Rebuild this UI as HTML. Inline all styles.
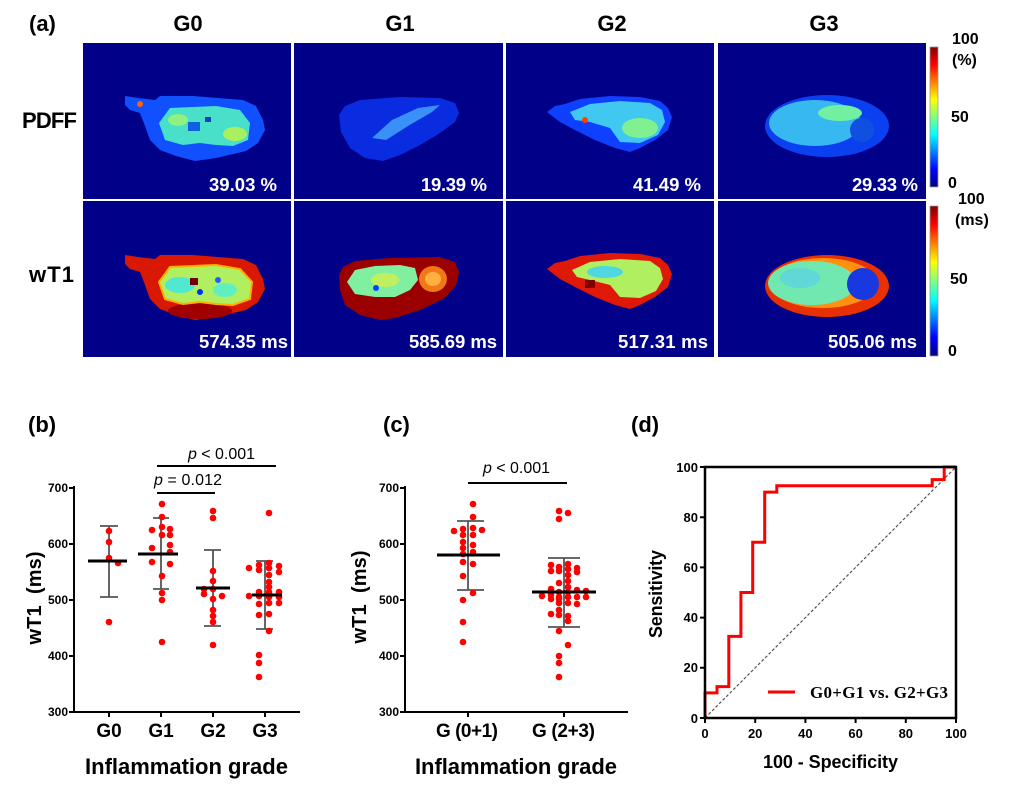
<!DOCTYPE html>
<html><head><meta charset="utf-8"><style>
html,body{margin:0;padding:0;background:#fff;}
svg{display:block;}
text{font-family:"Liberation Sans",Arial,sans-serif;}
</style></head><body>
<svg width="1014" height="795" viewBox="0 0 1014 795" xmlns="http://www.w3.org/2000/svg">
<defs>
<linearGradient id="jet" x1="0" y1="0" x2="0" y2="1">
<stop offset="0" stop-color="#800000"/><stop offset="0.125" stop-color="#ff0000"/><stop offset="0.375" stop-color="#ffff00"/><stop offset="0.625" stop-color="#00ffff"/><stop offset="0.875" stop-color="#0000ff"/><stop offset="1" stop-color="#000080"/>
</linearGradient>
</defs>
<rect width="1014" height="795" fill="#fff"/>

<!-- (a) header -->
<g font-weight="bold" font-size="22" fill="#000">
<text x="29" y="31">(a)</text>
<text x="188" y="31" text-anchor="middle">G0</text>
<text x="400" y="31" text-anchor="middle">G1</text>
<text x="612" y="31" text-anchor="middle">G2</text>
<text x="824" y="31" text-anchor="middle">G3</text>
<text x="22" y="128" textLength="55">PDFF</text>
<text x="29" y="282" textLength="45">wT1</text>
</g>

<!-- tiles -->
<g fill="#000088">
<rect x="83" y="43" width="208" height="156"/>
<rect x="294" y="43" width="209" height="156"/>
<rect x="506" y="43" width="208" height="156"/>
<rect x="718" y="43" width="208" height="156"/>
<rect x="83" y="201" width="208" height="156"/>
<rect x="294" y="201" width="209" height="156"/>
<rect x="506" y="201" width="208" height="156"/>
<rect x="718" y="201" width="208" height="156"/>
</g>

<!-- G0 PDFF -->
<path d="M125,96 L138,98 L155,100 L160,96 L193,96 L243,100 L256,106 L263,120 L265,130 L258,143 L246,151 L216,158 L195,161 L176,156 L160,150 L150,140 L145,126 L140,113 L130,110 L125,105 Z" fill="#1050ff"/>
<path d="M159,123 L170,108 L216,106 L240,110 L250,123 L248,140 L233,146 L216,145 L200,143 L183,145 L165,140 Z" fill="#48e0c8"/>
<ellipse cx="235" cy="134" rx="12" ry="7" fill="#a8f060"/>
<ellipse cx="178" cy="120" rx="10" ry="6" fill="#90f080"/>
<rect x="188" y="122" width="12" height="9" fill="#1060e0"/>
<rect x="205" y="117" width="6" height="5" fill="#0040c0"/>
<circle cx="140" cy="104" r="3" fill="#ff6000"/>

<!-- G1 PDFF -->
<path d="M339,115 L345,106 L360,100 L400,97 L440,98 L455,103 L459,113 L455,122 L440,133 L420,145 L400,155 L383,161 L365,158 L350,148 L341,132 Z" fill="#0a2ce0"/>
<path d="M372,138 L392,120 L418,108 L440,105 L432,112 L408,126 L386,140 Z" fill="#3a90f8"/>

<!-- G2 PDFF -->
<path d="M547,112 L555,106 L565,104 L580,99 L610,96 L640,97 L660,101 L668,108 L672,117 L668,130 L655,140 L640,148 L630,152 L615,148 L595,140 L575,130 L560,122 Z" fill="#1040ff"/>
<path d="M570,112 L590,104 L620,101 L650,103 L662,110 L665,122 L658,135 L640,143 L620,142 L610,128 L590,122 L575,120 Z" fill="#40c8f0"/>
<ellipse cx="640" cy="128" rx="18" ry="10" fill="#80f090"/>
<circle cx="585" cy="120" r="3" fill="#ff4000"/>

<!-- G3 PDFF -->
<ellipse cx="827" cy="126" rx="62" ry="31" fill="#0a40f0"/>
<ellipse cx="815" cy="123" rx="46" ry="23" fill="#38b8f0"/>
<ellipse cx="840" cy="113" rx="22" ry="8" fill="#70f0a0"/>
<circle cx="862" cy="130" r="12" fill="#1050e0"/>

<!-- G0 wT1 -->
<path d="M125,255 L138,257 L155,259 L160,255 L193,255 L243,259 L256,265 L263,279 L265,289 L258,302 L246,310 L216,317 L195,320 L176,315 L160,309 L150,299 L145,285 L140,272 L130,269 L125,264 Z" fill="#d81800"/>
<ellipse cx="200" cy="311" rx="32" ry="8" fill="#a00000"/>
<path d="M159,282 L170,267 L216,265 L240,269 L252,282 L250,299 L233,305 L216,304 L200,302 L183,304 L165,299 Z" fill="#b0f060" stroke="#ffb000" stroke-width="2"/>
<ellipse cx="180" cy="285" rx="15" ry="8" fill="#50e8d0"/>
<ellipse cx="225" cy="290" rx="12" ry="7" fill="#60f0c0"/>
<rect x="190" y="278" width="8" height="7" fill="#700000"/>
<circle cx="200" cy="292" r="3" fill="#0030ff"/>
<circle cx="218" cy="280" r="3" fill="#2060ff"/>

<!-- G1 wT1 -->
<path d="M339,275 L343,267 L355,261 L390,258 L440,257 L455,262 L459,272 L456,285 L445,298 L420,310 L395,318 L380,320 L360,315 L345,305 L340,290 Z" fill="#9a0000"/>
<path d="M347,282 L355,270 L375,266 L400,265 L415,268 L418,280 L410,290 L395,297 L375,297 L355,294 Z" fill="#80f0a0"/>
<ellipse cx="385" cy="280" rx="14" ry="7" fill="#c0f060"/>
<ellipse cx="433" cy="279" rx="14" ry="13" fill="#f07818"/>
<ellipse cx="433" cy="279" rx="8" ry="7" fill="#ffb040"/>
<circle cx="376" cy="288" r="3" fill="#0040ff"/>

<!-- G2 wT1 -->
<path d="M547,269 L555,263 L565,261 L580,256 L610,253 L640,254 L660,258 L668,265 L672,274 L668,287 L655,297 L640,305 L630,309 L615,305 L595,297 L575,287 L560,279 Z" fill="#e01808"/>
<path d="M572,270 L590,262 L620,259 L650,261 L660,268 L663,279 L656,291 L640,298 L620,297 L610,285 L590,280 L577,277 Z" fill="#b0f060"/>
<ellipse cx="605" cy="272" rx="18" ry="6" fill="#50d8e0"/>
<rect x="585" y="280" width="10" height="8" fill="#800000"/>

<!-- G3 wT1 -->
<ellipse cx="827" cy="286" rx="62" ry="31" fill="#e83000"/>
<ellipse cx="823" cy="283" rx="54" ry="25" fill="#ff9010"/>
<ellipse cx="812" cy="283" rx="44" ry="22" fill="#70e8b0"/>
<ellipse cx="800" cy="278" rx="20" ry="10" fill="#60d8d8"/>
<circle cx="863" cy="284" r="16" fill="#1838e0"/>

<!-- tile values -->
<g font-weight="bold" font-size="18.5" fill="#fff">
<text x="209" y="191" textLength="68">39.03 %</text>
<text x="421" y="191" textLength="66">19.39 %</text>
<text x="633" y="191" textLength="68">41.49 %</text>
<text x="852" y="191" textLength="66">29.33 %</text>
<text x="199" y="348" textLength="89">574.35 ms</text>
<text x="409" y="348" textLength="88">585.69 ms</text>
<text x="618" y="348" textLength="90">517.31 ms</text>
<text x="828" y="348" textLength="89">505.06 ms</text>
</g>

<!-- colorbars -->
<rect x="930" y="47" width="8" height="140" fill="url(#jet)" stroke="#999" stroke-width="0.8"/>
<rect x="930" y="206" width="8" height="150" fill="url(#jet)" stroke="#999" stroke-width="0.8"/>
<g font-weight="bold" font-size="16" fill="#000">
<text x="952" y="44">100</text>
<text x="952" y="65">(%)</text>
<text x="951" y="122">50</text>
<text x="948" y="188">0</text>
<text x="958" y="204">100</text>
<text x="955" y="225">(ms)</text>
<text x="950" y="284">50</text>
<text x="948" y="356">0</text>
</g>

<!-- panel labels -->
<g font-weight="bold" font-size="22" fill="#000">
<text x="28" y="432">(b)</text>
<text x="383" y="432">(c)</text>
<text x="631" y="432">(d)</text>
</g>

<!-- Panel b -->
<g stroke="#000" stroke-width="2" fill="none">
<path d="M74,486 L74,713 M73,712 L300,712"/>
<path d="M69,488 H74 M69,544 H74 M69,600 H74 M69,656 H74 M69,712 H74"/>
<path d="M109,712 V717 M161,712 V717 M213,712 V717 M265,712 V717"/>
</g>
<g font-weight="bold" font-size="12" fill="#000" text-anchor="end">
<text x="68" y="492">700</text>
<text x="68" y="548">600</text>
<text x="68" y="604">500</text>
<text x="68" y="660">400</text>
<text x="68" y="716">300</text>
</g>
<text x="41" y="598" transform="rotate(-90 41 598)" text-anchor="middle" font-weight="bold" font-size="20" textLength="93">wT1&#160; (ms)</text>
<g font-weight="bold" font-size="19" text-anchor="middle">
<text x="109" y="737">G0</text>
<text x="161" y="737">G1</text>
<text x="213" y="737">G2</text>
<text x="265" y="737">G3</text>
</g>
<text x="85" y="774" font-weight="bold" font-size="22" textLength="203">Inflammation grade</text>
<!-- significance b -->
<g stroke="#000" stroke-width="2">
<line x1="157" y1="466" x2="276" y2="466"/>
<line x1="157" y1="493" x2="215" y2="493"/>
</g>
<text x="188" y="459" font-size="16" textLength="67"><tspan font-style="italic">p</tspan> &lt; 0.001</text>
<text x="154" y="485" font-size="16" textLength="68"><tspan font-style="italic">p</tspan> = 0.012</text>
<!-- error bars b -->
<g stroke="#555" stroke-width="1.8">
<path d="M109,526 V597 M100,526 H118 M100,597 H118"/>
<path d="M161,518 V589 M153,518 H169 M153,589 H169"/>
<path d="M213,550 V626 M204,550 H221 M204,626 H221"/>
<path d="M265,561 V629 M256,561 H273 M256,629 H273"/>
</g>
<g fill="#ff0000">
<circle cx="109" cy="531" r="3.3"/><circle cx="109" cy="542" r="3.3"/><circle cx="109" cy="558" r="3.3"/><circle cx="118" cy="563" r="3.3"/><circle cx="109" cy="622" r="3.3"/>
<circle cx="162" cy="504" r="3.3"/><circle cx="162" cy="517" r="3.3"/><circle cx="152" cy="530" r="3.3"/><circle cx="162" cy="527" r="3.3"/><circle cx="170" cy="529" r="3.3"/><circle cx="162" cy="535" r="3.3"/><circle cx="170" cy="535" r="3.3"/><circle cx="170" cy="545" r="3.3"/><circle cx="152" cy="548" r="3.3"/><circle cx="170" cy="552" r="3.3"/><circle cx="152" cy="562" r="3.3"/><circle cx="170" cy="564" r="3.3"/><circle cx="162" cy="576" r="3.3"/><circle cx="162" cy="593" r="3.3"/><circle cx="162" cy="600" r="3.3"/><circle cx="162" cy="642" r="3.3"/>
<circle cx="213" cy="511" r="3.3"/><circle cx="213" cy="518" r="3.3"/><circle cx="213" cy="571" r="3.3"/><circle cx="213" cy="581" r="3.3"/><circle cx="204" cy="589" r="3.3"/><circle cx="213" cy="589" r="3.3"/><circle cx="204" cy="594" r="3.3"/><circle cx="222" cy="596" r="3.3"/><circle cx="213" cy="599" r="3.3"/><circle cx="213" cy="610" r="3.3"/><circle cx="213" cy="616" r="3.3"/><circle cx="213" cy="622" r="3.3"/><circle cx="213" cy="645" r="3.3"/>
<circle cx="269" cy="513" r="3.3"/><circle cx="249" cy="568" r="3.3"/><circle cx="259" cy="565" r="3.3"/><circle cx="259" cy="570" r="3.3"/><circle cx="269" cy="563" r="3.3"/><circle cx="269" cy="568" r="3.3"/><circle cx="279" cy="566" r="3.3"/><circle cx="279" cy="572" r="3.3"/><circle cx="269" cy="575" r="3.3"/><circle cx="269" cy="582" r="3.3"/><circle cx="269" cy="587" r="3.3"/><circle cx="259" cy="592" r="3.3"/><circle cx="269" cy="592" r="3.3"/><circle cx="279" cy="592" r="3.3"/><circle cx="249" cy="596" r="3.3"/><circle cx="259" cy="596" r="3.3"/><circle cx="269" cy="597" r="3.3"/><circle cx="279" cy="597" r="3.3"/><circle cx="259" cy="604" r="3.3"/><circle cx="269" cy="603" r="3.3"/><circle cx="279" cy="603" r="3.3"/><circle cx="259" cy="615" r="3.3"/><circle cx="269" cy="614" r="3.3"/><circle cx="269" cy="631" r="3.3"/><circle cx="259" cy="655" r="3.3"/><circle cx="259" cy="663" r="3.3"/><circle cx="259" cy="677" r="3.3"/>
</g>
<g stroke="#000" stroke-width="3">
<line x1="88" y1="561" x2="127" y2="561"/>
<line x1="138" y1="554" x2="178" y2="554"/>
<line x1="196" y1="588" x2="230" y2="588"/>
<line x1="252" y1="595" x2="282" y2="595"/>
</g>

<!-- Panel c -->
<g stroke="#000" stroke-width="2" fill="none">
<path d="M405,486 L405,713 M404,712 L628,712"/>
<path d="M400,488 H405 M400,544 H405 M400,600 H405 M400,656 H405 M400,712 H405"/>
<path d="M468,712 V717 M564,712 V717"/>
</g>
<g font-weight="bold" font-size="12" fill="#000" text-anchor="end">
<text x="399" y="492">700</text>
<text x="399" y="548">600</text>
<text x="399" y="604">500</text>
<text x="399" y="660">400</text>
<text x="399" y="716">300</text>
</g>
<text x="366" y="597" transform="rotate(-90 366 597)" text-anchor="middle" font-weight="bold" font-size="20" textLength="93">wT1&#160; (ms)</text>
<g font-weight="bold" font-size="19">
<text x="436" y="737" textLength="62">G (0+1)</text>
<text x="532" y="737" textLength="63">G (2+3)</text>
</g>
<text x="415" y="774" font-weight="bold" font-size="22" textLength="202">Inflammation grade</text>
<line x1="468" y1="483" x2="567" y2="483" stroke="#000" stroke-width="2"/>
<text x="483" y="473" font-size="16" textLength="67"><tspan font-style="italic">p</tspan> &lt; 0.001</text>
<g stroke="#555" stroke-width="1.8">
<path d="M468,521 V590 M457,521 H484 M457,590 H484"/>
<path d="M564,558 V627 M548,558 H580 M548,627 H580"/>
</g>
<g fill="#ff0000">
<circle cx="473" cy="504" r="3.3"/><circle cx="473" cy="517" r="3.3"/><circle cx="454" cy="531" r="3.3"/><circle cx="463" cy="529" r="3.3"/><circle cx="473" cy="528" r="3.3"/><circle cx="482" cy="530" r="3.3"/><circle cx="463" cy="535" r="3.3"/><circle cx="473" cy="535" r="3.3"/><circle cx="463" cy="542" r="3.3"/><circle cx="473" cy="545" r="3.3"/><circle cx="463" cy="548" r="3.3"/><circle cx="473" cy="552" r="3.3"/><circle cx="463" cy="554" r="3.3"/><circle cx="463" cy="562" r="3.3"/><circle cx="473" cy="564" r="3.3"/><circle cx="463" cy="576" r="3.3"/><circle cx="473" cy="593" r="3.3"/><circle cx="463" cy="600" r="3.3"/><circle cx="463" cy="622" r="3.3"/><circle cx="463" cy="642" r="3.3"/>
<circle cx="559" cy="511" r="3.3"/><circle cx="568" cy="513" r="3.3"/><circle cx="559" cy="519" r="3.3"/>
<circle cx="551" cy="565" r="3.3"/><circle cx="559" cy="567" r="3.3"/><circle cx="568" cy="564" r="3.3"/><circle cx="577" cy="568" r="3.3"/>
<circle cx="551" cy="571" r="3.3"/><circle cx="559" cy="571" r="3.3"/><circle cx="568" cy="569" r="3.3"/><circle cx="577" cy="572" r="3.3"/>
<circle cx="568" cy="575" r="3.3"/><circle cx="559" cy="583" r="3.3"/><circle cx="568" cy="581" r="3.3"/><circle cx="568" cy="587" r="3.3"/>
<circle cx="551" cy="589" r="3.3"/><circle cx="577" cy="590" r="3.3"/><circle cx="586" cy="591" r="3.3"/><circle cx="559" cy="592" r="3.3"/><circle cx="568" cy="592" r="3.3"/>
<circle cx="542" cy="596" r="3.3"/><circle cx="551" cy="595" r="3.3"/><circle cx="559" cy="597" r="3.3"/><circle cx="568" cy="597" r="3.3"/><circle cx="577" cy="597" r="3.3"/><circle cx="586" cy="597" r="3.3"/>
<circle cx="551" cy="599" r="3.3"/><circle cx="559" cy="599" r="3.3"/><circle cx="559" cy="603" r="3.3"/><circle cx="568" cy="603" r="3.3"/><circle cx="577" cy="604" r="3.3"/>
<circle cx="559" cy="610" r="3.3"/><circle cx="551" cy="614" r="3.3"/><circle cx="559" cy="615" r="3.3"/><circle cx="568" cy="616" r="3.3"/><circle cx="568" cy="621" r="3.3"/>
<circle cx="559" cy="631" r="3.3"/><circle cx="568" cy="645" r="3.3"/><circle cx="559" cy="656" r="3.3"/><circle cx="559" cy="663" r="3.3"/><circle cx="559" cy="677" r="3.3"/>
</g>
<g stroke="#000" stroke-width="3">
<line x1="437" y1="555" x2="500" y2="555"/>
<line x1="532" y1="592" x2="596" y2="592"/>
</g>

<!-- Panel d -->
<line x1="705" y1="718" x2="956" y2="467" stroke="#555" stroke-width="1.2" stroke-dasharray="3,2"/>
<polyline fill="none" stroke="#ff0000" stroke-width="3" points="705,718 705,692.9 717,692.9 717,686.6 728.8,686.6 728.8,636.4 740.9,636.4 740.9,592.5 752.7,592.5 752.7,542.3 764.7,542.3 764.7,492.1 776.8,492.1 776.8,485.8 932.2,485.8 932.2,479.6 944.2,479.6 944.2,467 956,467"/>
<rect x="705" y="467" width="251" height="251" fill="none" stroke="#000" stroke-width="2.5"/>
<g stroke="#000" stroke-width="2">
<path d="M700,467 H705 M700,517.2 H705 M700,567.4 H705 M700,617.6 H705 M700,667.8 H705 M700,718 H705"/>
<path d="M705,718 V723 M755.2,718 V723 M805.4,718 V723 M855.6,718 V723 M905.8,718 V723 M956,718 V723"/>
</g>
<g font-weight="bold" font-size="13" text-anchor="end">
<text x="698" y="472">100</text>
<text x="698" y="522">80</text>
<text x="698" y="572">60</text>
<text x="698" y="622">40</text>
<text x="698" y="672">20</text>
<text x="698" y="723">0</text>
</g>
<g font-weight="bold" font-size="13" text-anchor="middle">
<text x="705" y="738">0</text>
<text x="755.2" y="738">20</text>
<text x="805.4" y="738">40</text>
<text x="855.6" y="738">60</text>
<text x="905.8" y="738">80</text>
<text x="956" y="738">100</text>
</g>
<text x="662" y="594" transform="rotate(-90 662 594)" text-anchor="middle" font-weight="bold" font-size="18" textLength="88">Sensitivity</text>
<text x="763" y="768" font-weight="bold" font-size="18" textLength="135">100 - Specificity</text>
<line x1="768" y1="692" x2="795" y2="692" stroke="#ff0000" stroke-width="3"/>
<text x="810" y="698" style="font-family:'Liberation Serif','Times New Roman',serif" font-weight="bold" font-size="17" textLength="138">G0+G1 vs. G2+G3</text>
</svg>
</body></html>
